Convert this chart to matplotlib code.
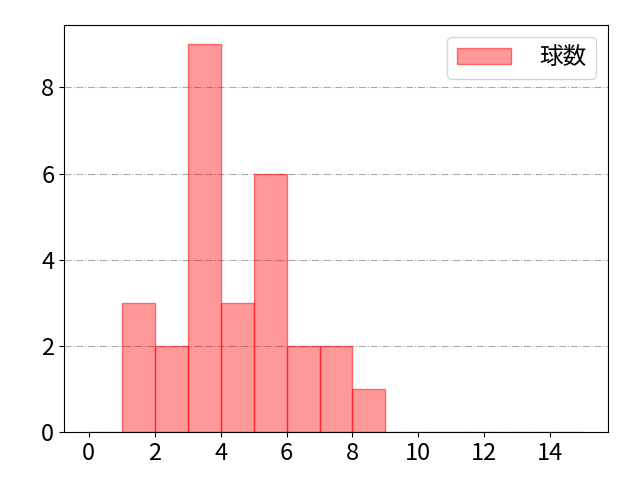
import matplotlib

matplotlib.use("Agg")
import matplotlib.pyplot as plt
import numpy as np

plt.rcParams["font.family"] = ["Noto Sans CJK JP", "DejaVu Sans"]

# pitch-count histogram: bin edges 0..15, count per bin
BIN_EDGES = np.arange(0, 16)
COUNTS = [0, 3, 2, 9, 3, 6, 2, 2, 1, 0, 0, 0, 0, 0, 0]
LABEL = "球数"

fig, ax = plt.subplots(figsize=(6.4, 4.8), dpi=100)
ax.hist(BIN_EDGES[:-1], bins=BIN_EDGES, weights=COUNTS,
        color=(1, 0, 0, 0.4), edgecolor=(1, 0, 0, 0.5), linewidth=1, label=LABEL)
ax.grid(True, axis="y", linestyle="-.", color="#aaaaaa", linewidth=0.8)
ax.set_axisbelow(True)
ax.set_xticks(np.arange(0, 15, 2))
ax.tick_params(labelsize=17)
ax.legend(fontsize=17, loc="upper right", handlelength=2.3, handletextpad=1.2)
fig.subplots_adjust(left=0.1, right=0.95, top=0.948, bottom=0.1)
fig.savefig("out.png", dpi=100)
